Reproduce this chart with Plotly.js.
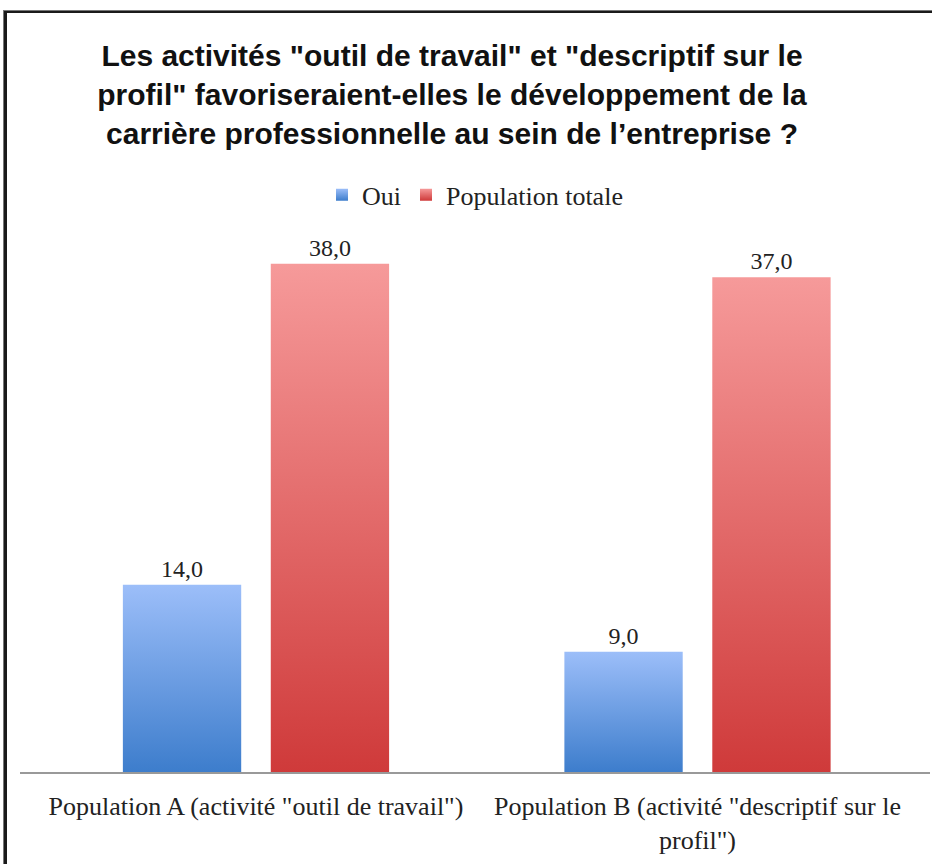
<!DOCTYPE html>
<html>
<head>
<meta charset="utf-8">
<script src="https://cdn.plot.ly/plotly-3.0.1.min.js"></script>
<style>
  html, body { margin: 0; padding: 0; background: #fff; overflow: hidden; }
  #chart { position: absolute; left: 0; top: 0; width: 932px; height: 864px; }
  #frame { position: absolute; left: 4px; top: 11px; width: 940px; height: 900px;
           border-left: 3px solid #1a1a1a; border-top: 2px solid #1a1a1a; box-shadow: -1px -1px 0 #777; pointer-events: none; }
</style>
</head>
<body>
<div id="chart"></div>
<div id="frame"></div>
<script>
const categories = [
  'Population A (activité "outil de travail")',
  'Population B (activité "descriptif sur le<br>profil")'
];
const seriesNames = ['Oui', 'Population totale'];
const ouiValues = [14, 9];
const totalValues = [38, 37];

const serif = '"Liberation Serif", "DejaVu Serif", serif';

const traces = [
  {
    type: 'bar', name: seriesNames[0], x: categories, y: ouiValues,
    marker: { color: '#6a9be6' },
    texttemplate: '%{y:.1f}', textposition: 'outside', cliponaxis: false,
    textfont: { family: serif, size: 24, color: '#222' }
  },
  {
    type: 'bar', name: seriesNames[1], x: categories, y: totalValues,
    marker: { color: '#e06262' },
    texttemplate: '%{y:.1f}', textposition: 'outside', cliponaxis: false,
    textfont: { family: serif, size: 24, color: '#222' }
  }
];

const layout = {
  width: 932, height: 864,
  margin: { l: 20, r: 2, t: 237, b: 92 },
  paper_bgcolor: '#fff', plot_bgcolor: '#fff',
  separators: ', ',
  title: {
    text: 'Les activités "outil de travail" et "descriptif sur le<br>profil" favoriseraient-elles le développement de la<br>carrière professionnelle au sein de l’entreprise ?',
    font: { family: '"Liberation Sans", Arial, sans-serif', size: 30, color: '#111', weight: 'bold' },
    xref: 'container', x: 452 / 932, xanchor: 'center',
    yref: 'container', y: 1 - 66 / 864, yanchor: 'top'
  },
  barmode: 'group', bargap: 0.33, bargroupgap: 0.2,
  showlegend: true,
  legend: {
    orientation: 'h', x: 0.5, xanchor: 'center', y: 1.079, yanchor: 'middle',
    font: { family: serif, size: 26, color: '#222' }, itemwidth: 30
  },
  xaxis: {
    range: [-0.5345, 1.5266], showline: true, linecolor: '#999', linewidth: 1.5,
    ticks: '', ticklabelstandoff: 10,
    tickfont: { family: serif, size: 26, color: '#222' }, fixedrange: true
  },
  yaxis: {
    range: [0, 40], showgrid: false, zeroline: false, showline: false,
    showticklabels: false, ticks: ''
  }
};

Plotly.newPlot('chart', traces, layout, { staticPlot: true }).then(function (gd) {
  const svg = gd.querySelector('svg.main-svg');
  const ns = 'http://www.w3.org/2000/svg';
  let defs = svg.querySelector('defs');
  if (!defs) { defs = document.createElementNS(ns, 'defs'); svg.insertBefore(defs, svg.firstChild); }
  function grad(id, top, bottom) {
    const g = document.createElementNS(ns, 'linearGradient');
    g.setAttribute('id', id);
    g.setAttribute('x1', '0'); g.setAttribute('y1', '0');
    g.setAttribute('x2', '0'); g.setAttribute('y2', '1');
    const s1 = document.createElementNS(ns, 'stop');
    s1.setAttribute('offset', '0'); s1.setAttribute('stop-color', top);
    const s2 = document.createElementNS(ns, 'stop');
    s2.setAttribute('offset', '1'); s2.setAttribute('stop-color', bottom);
    g.appendChild(s1); g.appendChild(s2); defs.appendChild(g);
  }
  grad('gBlue', '#9cbef9', '#3d7dcc');
  grad('gRed', '#f69a9a', '#cf3a3a');
  const ids = ['gBlue', 'gRed'];
  gd.querySelectorAll('.barlayer .trace').forEach(function (tr, i) {
    tr.querySelectorAll('.point path').forEach(function (p) {
      p.style.fill = 'url(#' + ids[i] + ')';
    });
  });
  gd.querySelectorAll('.legend .traces').forEach(function (tr, i) {
    tr.querySelectorAll('.legendpoints path').forEach(function (p) {
      p.style.fill = 'url(#' + ids[i] + ')';
    });
  });
});
</script>
</body>
</html>
